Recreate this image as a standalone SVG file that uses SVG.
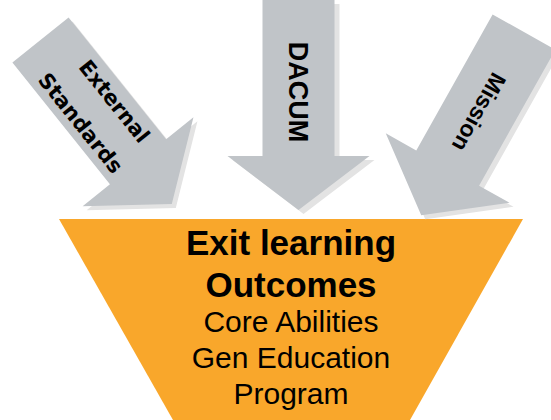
<svg xmlns="http://www.w3.org/2000/svg" width="551" height="420" viewBox="0 0 551 420">
  <style>
    .arrow { fill: #c0c4c8; }
    .shade { fill: #e3e3e3; }
    .alabel { font-family: "Liberation Sans", Arial, sans-serif; font-weight: bold; fill: #000; text-anchor: middle; }
    .ext { font-family: "DejaVu Sans", "Liberation Sans", sans-serif; font-weight: bold; fill: #000; text-anchor: middle; font-size: 21px; }
    .main { font-family: "Liberation Sans", Arial, sans-serif; fill: #000; text-anchor: middle; }
    .bold { font-weight: bold; font-size: 35px; }
    .reg { font-size: 30px; }
  </style>
  <defs>
    <!-- block arrow pointing down, origin at the centre of the shaft's top edge -->
    <path id="blockArrow" d="M-36,0 H36 V156 H71 L0,210 L-71,156 H-36 Z"/>
  </defs>

  <!-- funnel -->
  <g id="outcomes">
    <polygon points="59,219 523,219 410,420 173,420" fill="#f9a72b"/>
    <text class="main bold" x="291" y="255">Exit learning</text>
    <text class="main bold" x="291" y="297">Outcomes</text>
    <text class="main reg" x="291" y="332">Core Abilities</text>
    <text class="main reg" x="291" y="368">Gen Education</text>
    <text class="main reg" x="291" y="404">Program</text>
  </g>

  <g id="inputs">
    <g id="external-standards">
      <use href="#blockArrow" class="shade" transform="translate(44.5,44) rotate(-38.7)"/>
      <g transform="translate(40.5,40) rotate(-38.7)">
        <use href="#blockArrow" class="arrow"/>
        <g transform="rotate(90)">
          <text class="ext" x="94" y="-12">External</text>
          <text class="ext" x="90" y="28">Standards</text>
        </g>
      </g>
    </g>

    <g id="dacum">
      <use href="#blockArrow" class="shade" transform="translate(303.5,4)"/>
      <g transform="translate(298.5,0)">
        <use href="#blockArrow" class="arrow"/>
        <text class="alabel" font-size="27" transform="rotate(90)" x="92" y="10">DACUM</text>
      </g>
    </g>

    <g id="mission">
      <use href="#blockArrow" class="shade" transform="translate(528,36) rotate(29.3)"/>
      <g transform="translate(524,32) rotate(29.3)">
        <use href="#blockArrow" class="arrow"/>
        <text class="alabel" font-size="23" transform="rotate(90)" x="92" y="8">Mission</text>
      </g>
    </g>
  </g>
</svg>
